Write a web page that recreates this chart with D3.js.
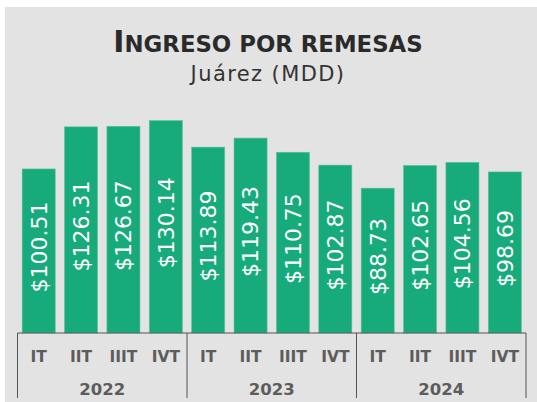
<!DOCTYPE html>
<html>
<head>
<meta charset="utf-8">
<script src="https://cdn.jsdelivr.net/npm/d3@7"></script>
<style>
  body { margin: 0; background: #fff; }
  svg { display: block; }
</style>
</head>
<body>
<div id="chart"></div>
<script>
// data
var quarters = ["IT", "IIT", "IIIT", "IVT"];
var years = ["2022", "2023", "2024"];
var values = [100.51, 126.31, 126.67, 130.14,
              113.89, 119.43, 110.75, 102.87,
              88.73, 102.65, 104.56, 98.69];

var W = 537, H = 402;

var svg = d3.select("#chart").append("svg")
    .attr("width", W)
    .attr("height", H);

svg.append("rect")
    .attr("x", 5).attr("y", 7)
    .attr("width", W - 5).attr("height", H - 7)
    .attr("fill", "#e3e3e3");

var keys = d3.range(values.length);

var x = d3.scaleBand()
    .domain(keys)
    .range([17.5, 526])
    .paddingInner(0.22)
    .paddingOuter(0.11);

var y = d3.scaleLinear()
    .domain([0, 130.14])
    .range([333, 120.6]);

var font = "'DejaVu Sans', sans-serif";

// title in small caps, first letter big
var titleText = "Ingreso por remesas";
var title = svg.append("text")
    .attr("x", 268).attr("y", 52)
    .attr("text-anchor", "middle")
    .attr("font-family", font)
    .attr("font-weight", 700)
    .attr("fill", "#2a2a2a");
title.append("tspan").attr("font-size", "30px")
    .text(titleText.charAt(0));
title.append("tspan").attr("font-size", "22.8px")
    .text(titleText.slice(1).toUpperCase());

svg.append("text")
    .attr("x", 268).attr("y", 81)
    .attr("text-anchor", "middle")
    .attr("font-family", font)
    .attr("font-size", "21px")
    .attr("letter-spacing", "1.4px")
    .attr("fill", "#333")
    .text("Juárez (MDD)");

// bars
svg.selectAll("rect.bar")
    .data(values)
    .enter().append("rect")
    .attr("class", "bar")
    .attr("x", function(d, i){ return x(i); })
    .attr("y", function(d){ return y(d); })
    .attr("width", x.bandwidth())
    .attr("height", function(d){ return y(0) - y(d); })
    .attr("fill", "#17aa7b")
    .attr("stroke", "#5cc29e")
    .attr("stroke-width", 0.6);

svg.selectAll("text.val")
    .data(values)
    .enter().append("text")
    .attr("class", "val")
    .attr("transform", function(d, i){
        var cx = x(i) + x.bandwidth() / 2;
        var cy = (y(d) + y(0)) / 2 - 4;
        return "translate(" + cx + "," + cy + ") rotate(-90)";
    })
    .attr("text-anchor", "middle")
    .attr("dy", "0.36em")
    .attr("font-family", font)
    .attr("font-size", "22px")
    .attr("fill", "#fff")
    .text(function(d){ return "$" + d.toFixed(2); });

// axis
var axis = svg.append("g").attr("stroke", "#555").attr("stroke-width", 1);
axis.append("line")
    .attr("x1", x.range()[0]).attr("x2", x.range()[1])
    .attr("y1", y(0)).attr("y2", y(0));

var gap = x.step() * x.paddingInner() / 2;
var sepX = [x.range()[0], x(4) - gap, x(8) - gap, x.range()[1]];
axis.selectAll("line.sep")
    .data(sepX)
    .enter().append("line")
    .attr("class", "sep")
    .attr("x1", function(d){ return d; })
    .attr("x2", function(d){ return d; })
    .attr("y1", y(0)).attr("y2", 398);

svg.selectAll("text.q")
    .data(values)
    .enter().append("text")
    .attr("class", "q")
    .attr("x", function(d, i){ return x(i) + x.bandwidth() / 2; })
    .attr("y", 362)
    .attr("text-anchor", "middle")
    .attr("font-family", font)
    .attr("font-weight", 700)
    .attr("font-size", "15.5px")
    .attr("fill", "#5c5c5c")
    .text(function(d, i){ return quarters[i % 4]; });

svg.selectAll("text.yr")
    .data(years)
    .enter().append("text")
    .attr("class", "yr")
    .attr("x", function(d, i){ return (x(i * 4) + x(i * 4 + 3) + x.bandwidth()) / 2; })
    .attr("y", 395)
    .attr("text-anchor", "middle")
    .attr("font-family", font)
    .attr("font-weight", 700)
    .attr("font-size", "16.5px")
    .attr("fill", "#5c5c5c")
    .text(function(d){ return d; });
</script>
</body>
</html>
